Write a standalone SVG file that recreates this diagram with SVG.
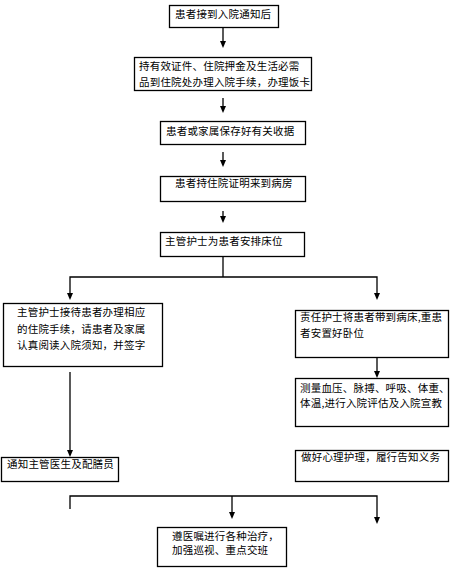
<svg xmlns="http://www.w3.org/2000/svg" width="453" height="572" viewBox="0 0 453 572">
<style>
.box{fill:#fff;stroke:#000;stroke-width:1.3}
.t{font-family:"Noto Sans CJK SC","Liberation Sans",sans-serif;font-size:10.5px;fill:#000;letter-spacing:0.2px}
.ln{fill:none;stroke:#000;stroke-width:1.3}
.ah{fill:#000}
</style>
<rect width="453" height="572" fill="#fff"/>
<g id="connectors">
<line class="ln" x1="223" y1="27" x2="223" y2="44"/>
<path class="ah" d="M220,41 L226,41 L223,48 Z"/>
<line class="ln" x1="223" y1="98" x2="223" y2="110"/>
<path class="ah" d="M220,106 L226,106 L223,113 Z"/>
<line class="ln" x1="223" y1="152" x2="223" y2="164"/>
<path class="ah" d="M220,160 L226,160 L223,167 Z"/>
<line class="ln" x1="223" y1="211" x2="223" y2="220"/>
<path class="ah" d="M220,216 L226,216 L223,223 Z"/>
<polyline class="ln" points="223,257 223,277"/>
<polyline class="ln" points="70,296 70,277 377,277 377,296"/>
<path class="ah" d="M67,293 L73,293 L70,300 Z"/>
<path class="ah" d="M374,293 L380,293 L377,300 Z"/>
<line class="ln" x1="377" y1="357" x2="377" y2="374"/>
<path class="ah" d="M374,371 L380,371 L377,378 Z"/>
<line class="ln" x1="70" y1="372" x2="70" y2="453"/>
<path class="ah" d="M67,450 L73,450 L70,457 Z"/>
<polyline class="ln" points="70,509 70,496 377,496 377,520"/>
<line class="ln" x1="232" y1="496" x2="232" y2="515"/>
<path class="ah" d="M229,512 L235,512 L232,519 Z"/>
<path class="ah" d="M374,517 L380,517 L377,524 Z"/>
</g>
<g id="n1"><rect class="box" x="169.5" y="5.5" width="109" height="22"/><text class="t" x="175" y="17.5">患者接到入院通知后</text></g>
<g id="n2"><rect class="box" x="134.5" y="57.5" width="177" height="33"/><text class="t" x="139" y="69.5">持有效证件、住院押金及生活必需</text><text class="t" x="139" y="86">品到住院处办理入院手续，办理饭卡</text></g>
<g id="n3"><rect class="box" x="160.5" y="121.5" width="145" height="23"/><text class="t" x="166" y="135">患者或家属保存好有关收据</text></g>
<g id="n4"><rect class="box" x="160.5" y="176.5" width="145" height="25"/><text class="t" x="175" y="187">患者持住院证明来到病房</text></g>
<g id="n5"><rect class="box" x="160.5" y="232.5" width="144" height="24"/><text class="t" x="165" y="245">主管护士为患者安排床位</text></g>
<g id="n6"><rect class="box" x="3.5" y="303.5" width="159" height="63"/><text class="t" x="17" y="316">主管护士接待患者办理相应</text><text class="t" x="17" y="333">的住院手续，请患者及家属</text><text class="t" x="17" y="349">认真阅读入院须知，并签字</text></g>
<g id="n7"><rect class="box" x="295.5" y="310.5" width="153" height="47"/><text class="t" x="300" y="321">责任护士将患者带到病床,重患</text><text class="t" x="300" y="337">者安置好卧位</text></g>
<g id="n8"><rect class="box" x="295.5" y="378.5" width="153" height="48"/><text class="t" x="300" y="392">测量血压、脉搏、呼吸、体重、</text><text class="t" x="300" y="407">体温,进行入院评估及入院宣教</text></g>
<g id="n9"><rect class="box" x="1.5" y="457.5" width="117" height="24"/><text class="t" x="7" y="468">通知主管医生及配膳员</text></g>
<g id="n10"><rect class="box" x="295.5" y="450.5" width="153" height="31"/><text class="t" x="301" y="461">做好心理护理，履行告知义务</text></g>
<g id="n11"><rect class="box" x="157.5" y="527.5" width="129" height="39"/><text class="t" x="172" y="540">遵医嘱进行各种治疗，</text><text class="t" x="172" y="554">加强巡视、重点交班</text></g>
</svg>
